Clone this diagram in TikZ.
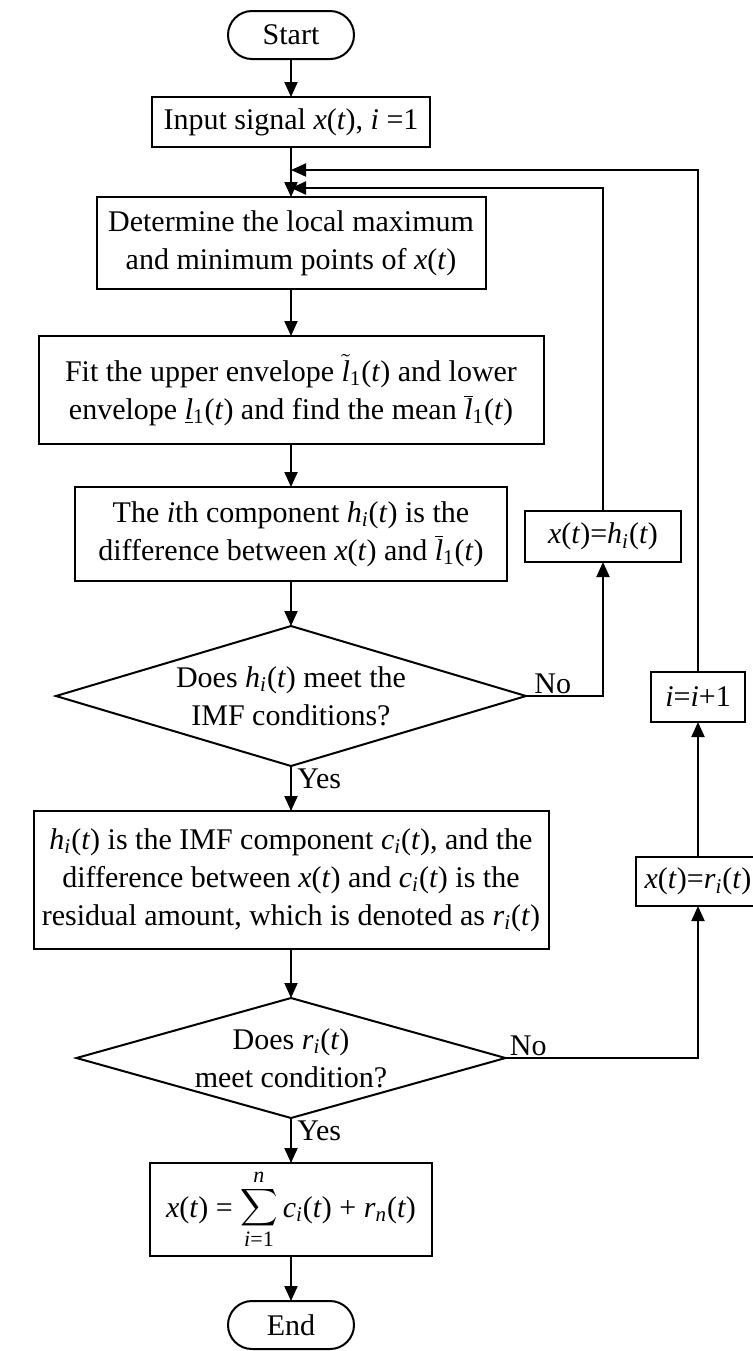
\documentclass[tikz,border=0pt]{standalone}
\usepackage{graphicx}
\usepackage{fontspec}
\setmainfont{Liberation Serif}
\usetikzlibrary{positioning,shapes.geometric,arrows.meta}
\newcommand{\mxt}{\textit{x}(\textit{t})}
\newcommand{\mhit}{\textit{h}\textsubscript{\textit{i}}(\textit{t})}
\newcommand{\mcit}{\textit{c}\textsubscript{\textit{i}}(\textit{t})}
\newcommand{\mrit}{\textit{r}\textsubscript{\textit{i}}(\textit{t})}
\newcommand{\mlup}{$\tilde{\mbox{\textit{l}}}$\textsubscript{1}(\textit{t})}
\newcommand{\mllow}{$\underline{\mbox{\textit{l}}}$\textsubscript{1}(\textit{t})}
\newcommand{\mlbar}{$\overline{\mbox{\textit{l}}}$\textsubscript{1}(\textit{t})}
\newcommand{\bigsum}{\mathop{\mbox{\scalebox{1.3}{$\displaystyle\sum$}}}}
\tikzset{
	block/.style={rectangle, draw=black, line width=1pt, align=center, inner sep=2pt, outer sep=0pt},
	term/.style={rectangle, rounded corners=12pt, draw=black, line width=1pt, outer sep=0pt, minimum width=63pt, minimum height=24pt},
	decision/.style={diamond, draw=black, line width=1pt, inner sep=0pt, outer sep=0pt},
	connect/.style={-{Triangle[length=7.5pt,width=6.5pt]}, line width=1pt},
	plain/.style={line width=1pt}
}
\begin{document}
\begin{tikzpicture}[x=0.5pt, y=-0.5pt, font=\fontsize{15}{19}\selectfont]
\useasboundingbox (0,0) rectangle (753,1351);
\node[term] (Start) at (291,35) {Start};
\node[block, minimum width=139pt, minimum height=25pt, below=19pt of Start] (Input) {Input signal \mxt, \textit{i} =1};
\node[block, minimum width=194.5pt, minimum height=46pt, below=25pt of Input] (Extrema) {Determine the local maximum\\and minimum points of \mxt};
\node[block, minimum width=252.5pt, minimum height=54pt, below=23.5pt of Extrema] (Envelope) {Fit the upper envelope \mlup{} and lower\\envelope \mllow{} and find the mean \mlbar};
\node[block, minimum width=216pt, minimum height=47pt, below=21.5pt of Envelope] (Comp) {The \textit{i}th component \mhit{} is the\\difference between \mxt{} and \mlbar};
\node[decision, minimum width=235pt, minimum height=70pt, below=22.5pt of Comp,
  label={[align=center]center:{Does \mhit{} meet the\\IMF conditions?}}] (CheckIMF) {};
\node[block, minimum width=257.5pt, minimum height=69pt, below=22.5pt of CheckIMF] (IMF) {\mhit{} is the IMF component \mcit, and the\\difference between \mxt{} and \mcit{} is the\\residual amount, which is denoted as \mrit};
\node[decision, minimum width=214.5pt, minimum height=60pt, below=24.5pt of IMF,
  label={[align=center]center:{Does \mrit\\meet condition?}}] (CheckRes) {};
\node[block, minimum width=141pt, minimum height=46.5pt, below=22.5pt of CheckRes] (Sum) {\mxt{} = $\bigsum\limits_{\mbox{\fontsize{11}{11}\selectfont\textit{i}=1}}^{\mbox{\fontsize{11}{11}\selectfont\textit{n}}}$\,\textit{c}\textsubscript{\textit{i}}(\textit{t}) + \textit{r}\textsubscript{\textit{n}}(\textit{t})};
\node[term, below=22.5pt of Sum] (End) {End};

\node[block, minimum width=78pt, minimum height=25.5pt] (Update) at (603,536.5) {\mxt=\mhit};
\node[block, minimum width=47pt, minimum height=25pt] (Incr) at (698,697) {\textit{i}=\textit{i}+1};
\node[block, minimum width=62pt, minimum height=24.5pt] (Resid) at (698,881.5) {\mxt=\mrit};
\coordinate (loopA) at (291,170);
\coordinate (loopB) at (291,188);

\draw[connect] (Start) -- (Input);
\draw[connect] (Input) -- (Extrema);
\draw[connect] (Extrema) -- (Envelope);
\draw[connect] (Envelope) -- (Comp);
\draw[connect] (Comp) -- (CheckIMF);
\draw[connect] (CheckIMF) -- (IMF);
\draw[connect] (IMF) -- (CheckRes);
\draw[connect] (CheckRes) -- (Sum);
\draw[connect] (Sum) -- (End);

% loops on the right
\draw[connect] (CheckIMF.east) -| (Update.south);
\draw[connect] (Update.north) |- (loopB);
\draw[connect] (CheckRes.east) -| (Resid.south);
\draw[connect] (Resid) -- (Incr);
\draw[connect] (Incr.north) |- (loopA);

\node[anchor=south west, inner sep=1pt, xshift=3pt] (NoA) at (CheckIMF.east) {No};
\node[anchor=south west, inner sep=1pt, xshift=1pt] (NoB) at (CheckRes.east) {No};
\node[anchor=north west, inner sep=1pt, xshift=2pt] (YesA) at (CheckIMF.south) {Yes};
\node[anchor=north west, inner sep=1pt, xshift=2pt] (YesB) at (CheckRes.south) {Yes};
\end{tikzpicture}
\end{document}
